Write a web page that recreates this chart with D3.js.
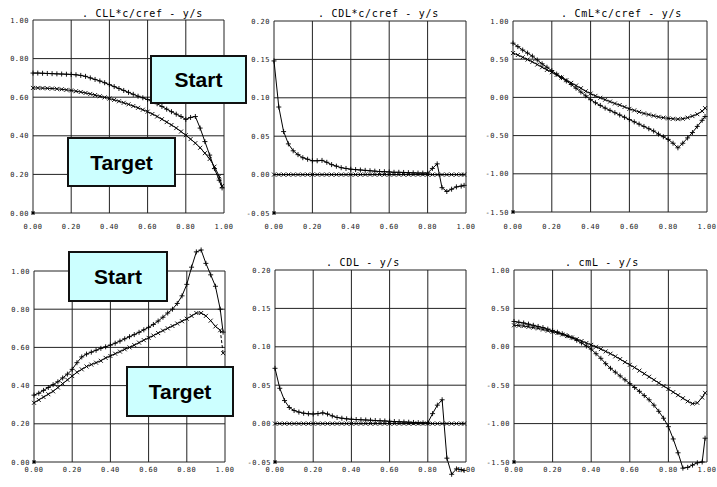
<!DOCTYPE html>
<html>
<head>
<meta charset="utf-8">
<script src="https://cdn.jsdelivr.net/npm/d3@7"></script>
<style>
  body { margin: 0; background: #fff; }
  text { font-family: "DejaVu Sans Mono", monospace; }
</style>
</head>
<body>
<svg id="chart" width="717" height="487"></svg>
<script>
// spanwise stations y/s shared by every series
const span = [0, 0.025, 0.05, 0.075, 0.1, 0.125, 0.15, 0.175, 0.2, 0.225, 0.25, 0.275, 0.3, 0.325, 0.35, 0.375,
  0.4, 0.425, 0.45, 0.475, 0.5, 0.525, 0.55, 0.575, 0.6, 0.625, 0.65, 0.675, 0.7, 0.725, 0.75, 0.775,
  0.8, 0.825, 0.85, 0.875, 0.9, 0.925, 0.95, 0.975, 0.99];

const xTicks = [0, 0.2, 0.4, 0.6, 0.8, 1.0];
const yTicksCL = [0, 0.2, 0.4, 0.6, 0.8, 1.0];
const yTicksCD = [-0.05, 0, 0.05, 0.1, 0.15, 0.2];
const yTicksCm = [-1.5, -1, -0.5, 0, 0.5, 1];

// the CLL - y/s title of the lower left plot is hidden under the Start box
const titles = ["CLL*c/cref - y/s", "CDL*c/cref - y/s", "CmL*c/cref - y/s", null, "CDL - y/s", "cmL - y/s"];

// top row: values times c/cref
const cllcStart = [0.725, 0.725, 0.724, 0.723, 0.722, 0.721, 0.72, 0.719, 0.718, 0.716, 0.713, 0.708, 0.70, 0.692, 0.684, 0.675,
  0.665, 0.655, 0.645, 0.635, 0.625, 0.615, 0.605, 0.597, 0.588, 0.578, 0.566, 0.552, 0.538, 0.525, 0.512, 0.50,
  0.485, 0.495, 0.50, 0.44, 0.37, 0.30, 0.23, 0.17, 0.13];
const cllcTarget = [0.648, 0.648, 0.647, 0.646, 0.645, 0.643, 0.641, 0.638, 0.635, 0.631, 0.627, 0.622, 0.617, 0.611, 0.605, 0.599,
  0.593, 0.586, 0.579, 0.571, 0.563, 0.554, 0.545, 0.535, 0.525, 0.513, 0.50, 0.486, 0.471, 0.456, 0.44, 0.422,
  0.403, 0.383, 0.362, 0.338, 0.31, 0.28, 0.24, 0.19, 0.14];

const cdlcStart = [0.148, 0.088, 0.056, 0.040, 0.031, 0.026, 0.022, 0.020, 0.018, 0.018, 0.0185, 0.016, 0.013, 0.011, 0.009, 0.008,
  0.007, 0.0065, 0.006, 0.0055, 0.005, 0.0045, 0.004, 0.0038, 0.0035, 0.003, 0.003, 0.0028, 0.0025, 0.0023, 0.002, 0.002,
  0.002, 0.008, 0.014, -0.017, -0.022, -0.019, -0.016, -0.015, -0.014];
const cdlcTarget = [0, 0, 0, 0, 0, 0, 0, 0, 0, 0, 0, 0, 0, 0, 0, 0,
  0, 0, 0, 0, 0, 0, 0, 0, 0, 0, 0, 0, 0, 0, 0, 0,
  0, 0, 0, 0, 0, 0, 0, 0, 0];

const cmlcStart = [0.71, 0.665, 0.62, 0.58, 0.54, 0.49, 0.44, 0.395, 0.35, 0.305, 0.26, 0.215, 0.17, 0.12, 0.07, 0.02,
  -0.03, -0.07, -0.105, -0.14, -0.17, -0.20, -0.23, -0.26, -0.29, -0.32, -0.35, -0.38, -0.41, -0.44, -0.48, -0.515,
  -0.55, -0.60, -0.66, -0.60, -0.53, -0.46, -0.38, -0.30, -0.25];
const cmlcTarget = [0.58, 0.555, 0.525, 0.495, 0.465, 0.43, 0.395, 0.36, 0.33, 0.295, 0.26, 0.225, 0.19, 0.155, 0.12, 0.08,
  0.05, 0.02, -0.005, -0.03, -0.055, -0.08, -0.10, -0.125, -0.15, -0.17, -0.19, -0.21, -0.225, -0.24, -0.255, -0.265,
  -0.275, -0.28, -0.285, -0.28, -0.265, -0.245, -0.22, -0.18, -0.14];

// bottom row: local coefficients
const cllStart = [0.35, 0.36, 0.375, 0.39, 0.405, 0.42, 0.44, 0.46, 0.485, 0.52, 0.55, 0.565, 0.575, 0.585, 0.595, 0.603,
  0.612, 0.622, 0.633, 0.645, 0.656, 0.667, 0.679, 0.692, 0.705, 0.72, 0.738, 0.758, 0.78, 0.80, 0.83, 0.87,
  0.93, 1.02, 1.10, 1.11, 1.04, 0.98, 0.92, 0.80, 0.68];
const cllTarget = [0.31, 0.325, 0.34, 0.355, 0.37, 0.39, 0.41, 0.43, 0.45, 0.47, 0.485, 0.50, 0.51, 0.52, 0.53, 0.545,
  0.555, 0.567, 0.578, 0.59, 0.60, 0.612, 0.625, 0.638, 0.65, 0.662, 0.675, 0.688, 0.70, 0.712, 0.725, 0.737,
  0.75, 0.765, 0.78, 0.78, 0.765, 0.74, 0.71, 0.69, 0.57];

const cdlStart = [0.072, 0.046, 0.030, 0.021, 0.017, 0.015, 0.0135, 0.0128, 0.0125, 0.013, 0.014, 0.0125, 0.010, 0.008, 0.007, 0.0062,
  0.0057, 0.0053, 0.005, 0.0047, 0.0044, 0.004, 0.0037, 0.0034, 0.003, 0.0027, 0.0024, 0.0021, 0.0018, 0.0015, 0.0012, 0.001,
  0.001, 0.013, 0.024, 0.031, -0.045, -0.066, -0.059, -0.060, -0.061];
const cdlTarget = [0, 0, 0, 0, 0, 0, 0, 0, 0, 0, 0, 0, 0, 0, 0, 0,
  0, 0, 0, 0, 0, 0, 0, 0, 0, 0, 0, 0, 0, 0, 0, 0,
  0, 0, 0, 0, 0, 0, 0, 0, 0];

const cmlStart = [0.33, 0.32, 0.31, 0.295, 0.28, 0.265, 0.25, 0.23, 0.21, 0.19, 0.17, 0.145, 0.12, 0.085, 0.05, 0.01,
  -0.03, -0.09, -0.15, -0.22, -0.28, -0.33, -0.38, -0.43, -0.48, -0.53, -0.58, -0.635, -0.69, -0.76, -0.84, -0.93,
  -1.04, -1.20, -1.38, -1.58, -1.57, -1.54, -1.51, -1.50, -1.19];
const cmlTarget = [0.28, 0.275, 0.27, 0.26, 0.25, 0.24, 0.225, 0.21, 0.195, 0.18, 0.16, 0.14, 0.12, 0.10, 0.075, 0.05,
  0.025, 0, -0.03, -0.06, -0.09, -0.125, -0.16, -0.20, -0.235, -0.27, -0.31, -0.35, -0.39, -0.43, -0.47, -0.51,
  -0.55, -0.59, -0.63, -0.67, -0.71, -0.74, -0.73, -0.66, -0.60];

const svg = d3.select("#chart");
const fmt = v => d3.format(".2f")(v).replace("\u2212", "-");

// plot frames in pixels: [left, top, right, bottom]
const panels = [
  { box: [33, 20, 224, 213], yTicks: yTicksCL, title: titles[0], tx: 82, ty: 17, xl: 229, start: cllcStart, target: cllcTarget },
  { box: [274, 21, 466, 213], yTicks: yTicksCD, title: titles[1], tx: 318, ty: 17, xl: 229, start: cdlcStart, target: cdlcTarget },
  { box: [513, 21, 707, 212], yTicks: yTicksCm, title: titles[2], tx: 561, ty: 17, xl: 229, start: cmlcStart, target: cmlcTarget },
  { box: [34, 271, 225, 462], yTicks: yTicksCL, title: titles[3], tx: 90, ty: 266, xl: 472, start: cllStart, target: cllTarget, dashEnd: true },
  { box: [275, 270, 466, 462], yTicks: yTicksCD, title: titles[4], tx: 326, ty: 266, xl: 472, start: cdlStart, target: cdlTarget },
  { box: [514, 270, 707, 462], yTicks: yTicksCm, title: titles[5], tx: 565, ty: 266, xl: 472, start: cmlStart, target: cmlTarget }
];

panels.forEach(p => {
  const [l, t, r, b] = p.box;
  const x = d3.scaleLinear().domain([0, 1]).range([l, r]);
  const y = d3.scaleLinear().domain(d3.extent(p.yTicks)).range([b, t]);
  const g = svg.append("g");

  // title
  if (p.title) {
    g.append("text")
      .attr("x", p.tx).attr("y", p.ty)
      .attr("font-size", 10).attr("letter-spacing", 0.7)
      .attr("xml:space", "preserve")
      .text(". " + p.title);
  }

  // grid
  g.selectAll(".vg").data(xTicks).enter().append("line")
    .attr("x1", d => x(d)).attr("x2", d => x(d))
    .attr("y1", t).attr("y2", b)
    .attr("stroke", "#222").attr("stroke-width", 1);
  g.selectAll(".hg").data(p.yTicks).enter().append("line")
    .attr("x1", l).attr("x2", r)
    .attr("y1", d => y(d)).attr("y2", d => y(d))
    .attr("stroke", "#222").attr("stroke-width", 1);

  // tick labels
  g.selectAll(".xl").data(xTicks).enter().append("text")
    .attr("x", d => x(d)).attr("y", p.xl)
    .attr("text-anchor", "middle")
    .attr("font-size", 7).attr("letter-spacing", 0.5).attr("fill", "#222")
    .text(fmt);
  g.selectAll(".yl").data(p.yTicks).enter().append("text")
    .attr("x", l - 4).attr("y", d => y(d) + 2.5)
    .attr("text-anchor", "end")
    .attr("font-size", 7).attr("letter-spacing", 0.5).attr("fill", "#222")
    .text(fmt);

  // little star at the origin corner
  g.append("path")
    .attr("d", `M${l - 2},${b}h4M${l},${b - 2}v4M${l - 1.5},${b - 1.5}l3,3M${l - 1.5},${b + 1.5}l3,-3`)
    .attr("stroke", "#000").attr("stroke-width", 1);

  const line = d3.line().x((d, i) => x(span[i])).y(d => y(d));

  // start series with plus markers
  g.append("path").datum(p.start)
    .attr("d", line).attr("fill", "none")
    .attr("stroke", "#000").attr("stroke-width", 1);
  g.selectAll(".pm").data(p.start).enter().append("path")
    .attr("d", (d, i) => {
      const cx = x(span[i]), cy = y(d);
      return `M${cx - 2.5},${cy}h5M${cx},${cy - 2.5}v5`;
    })
    .attr("stroke", "#000").attr("stroke-width", 0.9);

  // target series with cross markers
  const n = p.target.length;
  const solid = p.dashEnd ? p.target.slice(0, n - 1) : p.target;
  g.append("path").datum(solid)
    .attr("d", line).attr("fill", "none")
    .attr("stroke", "#000").attr("stroke-width", 1);
  if (p.dashEnd) {
    g.append("line")
      .attr("x1", x(span[n - 2])).attr("y1", y(p.target[n - 2]))
      .attr("x2", x(span[n - 1])).attr("y2", y(p.target[n - 1]))
      .attr("stroke", "#000").attr("stroke-width", 1).attr("stroke-dasharray", "3,2");
  }
  g.selectAll(".xm").data(p.target).enter().append("path")
    .attr("d", (d, i) => {
      const cx = x(span[i]), cy = y(d);
      return `M${cx - 2},${cy - 2}l4,4M${cx - 2},${cy + 2}l4,-4`;
    })
    .attr("stroke", "#000").attr("stroke-width", 0.9);
});

// Start / Target callouts
const callouts = [
  { label: "Start", x: 151, y: 56, w: 95, h: 47 },
  { label: "Target", x: 68, y: 138, w: 107, h: 48 },
  { label: "Start", x: 69, y: 252, w: 98, h: 49 },
  { label: "Target", x: 127, y: 367, w: 106, h: 49 }
];
const cg = svg.append("g");
callouts.forEach(c => {
  cg.append("rect")
    .attr("x", c.x).attr("y", c.y).attr("width", c.w).attr("height", c.h)
    .attr("fill", "#ccffff").attr("stroke", "#111").attr("stroke-width", 2);
  cg.append("text")
    .attr("x", c.x + c.w / 2).attr("y", c.y + c.h / 2 + 7.5)
    .attr("text-anchor", "middle")
    .style("font-family", "'Liberation Sans', Arial, sans-serif")
    .attr("font-weight", "bold").attr("font-size", 21)
    .text(c.label);
});
</script>
</body>
</html>
